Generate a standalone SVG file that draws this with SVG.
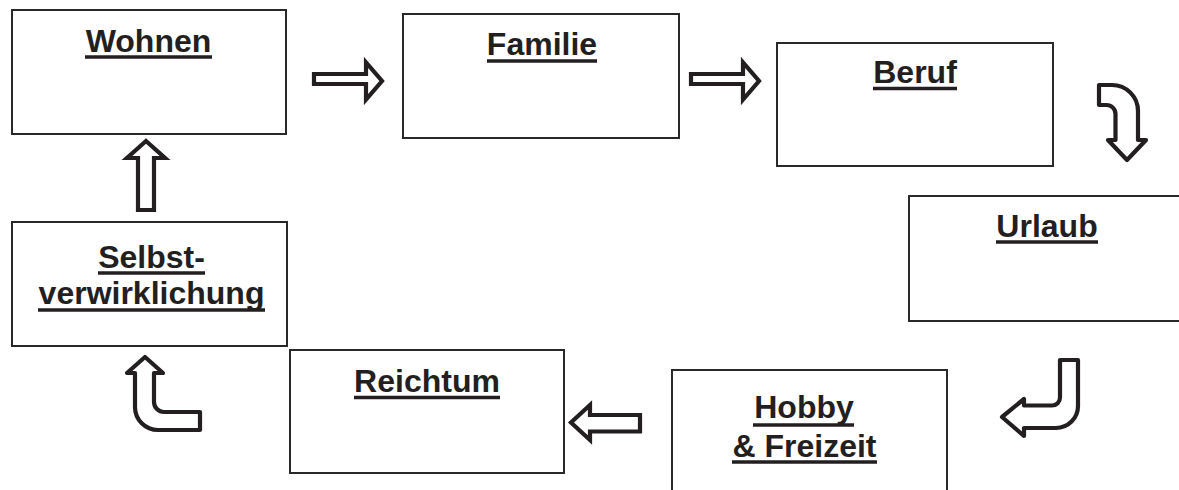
<svg xmlns="http://www.w3.org/2000/svg" width="1179" height="490" viewBox="0 0 1179 490">
  <style>
    .box { fill: #ffffff; stroke: #2b2829; stroke-width: 2; }
    .lbl { font-family: "Liberation Sans", Arial, sans-serif; font-weight: bold; font-size: 32px; fill: #231f20; text-anchor: middle; }
    .ul { stroke: #231f20; stroke-width: 3.5; }
    .arr { fill: #ffffff; stroke: #231f20; stroke-width: 4.2; stroke-linejoin: miter; }
    .carr { fill: #ffffff; stroke: #231f20; stroke-width: 4.2; stroke-linejoin: round; }
  </style>
  <rect width="1179" height="490" fill="#ffffff"/>

  <g id="node-wohnen">
    <rect class="box" x="12" y="10" width="274" height="124"/>
    <text class="lbl" x="148.5" y="52">Wohnen</text>
    <line class="ul" x1="85" y1="57" x2="212" y2="57"/>
  </g>

  <g id="node-familie">
    <rect class="box" x="403" y="14" width="276" height="124"/>
    <text class="lbl" x="542" y="55">Familie</text>
    <line class="ul" x1="487" y1="61" x2="597" y2="61"/>
  </g>

  <g id="node-beruf">
    <rect class="box" x="777" y="43" width="276" height="123"/>
    <text class="lbl" x="915" y="83">Beruf</text>
    <line class="ul" x1="873" y1="88.5" x2="957" y2="88.5"/>
  </g>

  <g id="node-urlaub">
    <rect class="box" x="909" y="196" width="280" height="125"/>
    <text class="lbl" x="1047" y="237">Urlaub</text>
    <line class="ul" x1="996" y1="242" x2="1098" y2="242"/>
  </g>

  <g id="node-hobby">
    <rect class="box" x="672" y="370" width="275" height="130"/>
    <text class="lbl" x="804" y="418">Hobby</text>
    <line class="ul" x1="753" y1="425" x2="854" y2="425"/>
    <text class="lbl" x="804.5" y="456.5">&amp; Freizeit</text>
    <line class="ul" x1="732" y1="462" x2="877" y2="462"/>
  </g>

  <g id="node-reichtum">
    <rect class="box" x="290" y="350" width="274" height="123"/>
    <text class="lbl" x="427" y="392">Reichtum</text>
    <line class="ul" x1="354" y1="397.5" x2="500" y2="397.5"/>
  </g>

  <g id="node-selbstverwirklichung">
    <rect class="box" x="12" y="222" width="275" height="124"/>
    <text class="lbl" x="151.5" y="268">Selbst-</text>
    <line class="ul" x1="98" y1="273" x2="205" y2="273"/>
    <text class="lbl" x="151.5" y="304">verwirklichung</text>
    <line class="ul" x1="38" y1="310" x2="265" y2="310"/>
  </g>

  <g id="connectors">
    <polygon class="arr" points="314,74 366,74 366,62.5 382,81 366,99.5 366,84 314,84"/>
    <polygon class="arr" points="691,74 743,74 743,62.5 759,81 743,99.5 743,84 691,84"/>
    <path class="carr" d="M1099,85 L1112,85 A26,26 0 0 1 1138,111 L1138,140 L1146,140 L1127,160 L1108,140 L1115.5,140 L1115.5,114 A9,9 0 0 0 1106.5,105 L1099,105 Z"/>
    <path class="carr" d="M1060,360 L1078,360 L1078,406 A22,22 0 0 1 1056,428 L1024,428 L1024,436 L1002,417 L1024,399 L1024,405.5 L1052,405.5 A8,8 0 0 0 1060,397.5 Z"/>
    <polygon class="arr" points="640,415 590,415 590,405 571,422.5 590,440 590,431.5 640,431.5"/>
    <path class="carr" d="M135,373 L127,373 L145,357 L163,373 L154,373 L154,402 A10,10 0 0 0 164,412 L200,412 L200,430 L158,430 A23,23 0 0 1 135,407 Z"/>
    <polygon class="arr" points="138,210 138,158 127,158 146,141 165,158 154,158 154,210"/>
  </g>
</svg>
